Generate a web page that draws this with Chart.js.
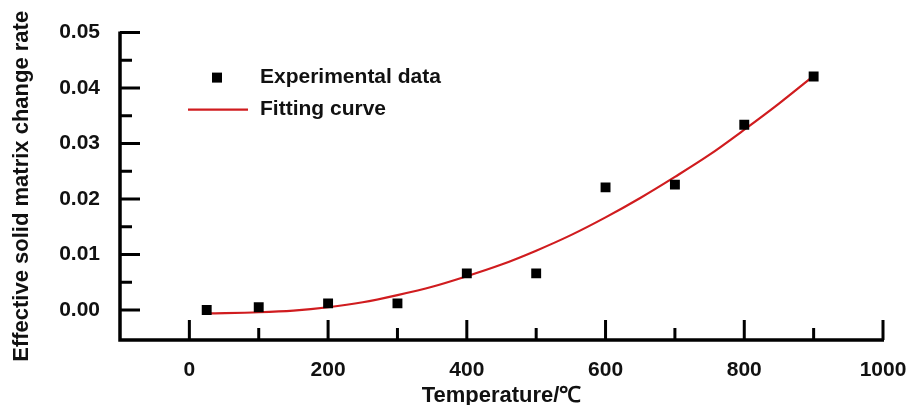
<!DOCTYPE html>
<html>
<head>
<meta charset="utf-8">
<script src="https://cdn.jsdelivr.net/npm/chart.js@4/dist/chart.umd.min.js"></script>
<style>
  html, body { margin: 0; padding: 0; background: #ffffff; overflow: hidden; }
  canvas { display: block; }
</style>
</head>
<body>
<canvas id="chart" width="912" height="405"></canvas>
<script>
// Measured effective solid matrix change rate vs. temperature
const temperatures = [25, 100, 200, 300, 400, 500, 600, 700, 800, 900];
const changeRates = [0.0000, 0.0005, 0.0012, 0.0012, 0.0066, 0.0066, 0.0221, 0.0226, 0.0334, 0.0421];

// Fitted curve through the measurements
const fitTemperatures = [27, 100, 150, 200, 250, 300, 350, 400, 450, 500, 550, 600, 650, 700, 750, 800, 850, 900];
const fitRates = [-0.0006, -0.0004, -0.0001, 0.0005, 0.0014, 0.0027, 0.0042, 0.0061, 0.0082, 0.0107, 0.0135, 0.0167, 0.0202, 0.0240, 0.0280, 0.0325, 0.0372, 0.0422];

// Axis ticks (major labelled, minor unlabelled)
const xTicks = [0, 200, 400, 600, 800, 1000];
const xMinorTicks = [100, 300, 500, 700, 900];
const yTicks = [0, 0.01, 0.02, 0.03, 0.04, 0.05];
const yMinorTicks = [0.005, 0.015, 0.025, 0.035, 0.045];

const seriesNames = ['Experimental data', 'Fitting curve'];
const xTitle = 'Temperature/℃';
const yTitle = 'Effective solid matrix change rate';

const FONT = '"Liberation Sans", Arial, Helvetica, sans-serif';
const RED = '#d01c1f';

// Tick marks pointing into the plot area
const inwardTicks = {
  id: 'inwardTicks',
  afterDatasetsDraw(chart) {
    const { ctx, chartArea: a, scales: { x, y } } = chart;
    ctx.save();
    ctx.strokeStyle = '#000';
    ctx.lineWidth = 3;
    ctx.lineCap = 'butt';
    ctx.beginPath();
    xTicks.forEach(v => { const p = x.getPixelForValue(v); ctx.moveTo(p, a.bottom); ctx.lineTo(p, a.bottom - 20); });
    xMinorTicks.forEach(v => { const p = x.getPixelForValue(v); ctx.moveTo(p, a.bottom); ctx.lineTo(p, a.bottom - 12); });
    yTicks.forEach(v => { const p = y.getPixelForValue(v); ctx.moveTo(a.left, p); ctx.lineTo(a.left + 20, p); });
    yMinorTicks.forEach(v => { const p = y.getPixelForValue(v); ctx.moveTo(a.left, p); ctx.lineTo(a.left + 12, p); });
    ctx.stroke();
    // axis lines
    ctx.lineWidth = 3.5;
    ctx.beginPath();
    ctx.moveTo(a.left, a.top - 1);
    ctx.lineTo(a.left, a.bottom);
    ctx.lineTo(a.right + 1, a.bottom);
    ctx.stroke();
    ctx.restore();
  }
};

// Legend drawn inside the plot area
const insideLegend = {
  id: 'insideLegend',
  afterDraw(chart) {
    const { ctx, chartArea: a } = chart;
    const ds = chart.data.datasets;
    const mx = a.left + 97, sy = a.top + 45, ly = a.top + 77, tx = a.left + 140;
    ctx.save();
    ctx.fillStyle = ds[0].backgroundColor;
    ctx.fillRect(mx - 5, sy - 5, 10, 10);
    ctx.strokeStyle = ds[1].borderColor;
    ctx.lineWidth = 2.2;
    ctx.beginPath();
    ctx.moveTo(a.left + 68, ly);
    ctx.lineTo(a.left + 128, ly);
    ctx.stroke();
    ctx.fillStyle = '#111';
    ctx.font = 'bold 21px ' + FONT;
    ctx.textBaseline = 'middle';
    ctx.textAlign = 'left';
    ctx.fillText(ds[0].label, tx, sy);
    ctx.fillText(ds[1].label, tx, ly);
    ctx.restore();
  }
};

new Chart(document.getElementById('chart'), {
  type: 'scatter',
  data: {
    datasets: [
      {
        label: seriesNames[0],
        data: temperatures.map((t, i) => ({ x: t, y: changeRates[i] })),
        pointStyle: 'rect',
        pointRadius: 7,
        pointHoverRadius: 7,
        backgroundColor: '#000',
        borderColor: '#000',
        borderWidth: 0,
        order: 0
      },
      {
        label: seriesNames[1],
        data: fitTemperatures.map((t, i) => ({ x: t, y: fitRates[i] })),
        showLine: true,
        pointRadius: 0,
        borderColor: RED,
        backgroundColor: RED,
        borderWidth: 2.2,
        cubicInterpolationMode: 'monotone',
        fill: false,
        order: 1
      }
    ]
  },
  options: {
    responsive: false,
    animation: false,
    layout: { padding: { left: 0, top: 30, right: 29, bottom: 0 } },
    plugins: {
      legend: { display: false },
      tooltip: { enabled: false }
    },
    scales: {
      x: {
        type: 'linear',
        min: -100,
        max: 1000,
        afterBuildTicks: s => { s.ticks = xTicks.map(v => ({ value: v })); },
        afterFit: s => { s.height = 65; s.paddingRight = 0; },
        grid: { display: false, drawTicks: false },
        border: { display: false },
        ticks: {
          padding: 18,
          color: '#111',
          font: { family: FONT, size: 21, weight: 'bold' },
          maxRotation: 0,
          callback: v => String(v)
        },
        title: {
          display: true,
          text: xTitle,
          color: '#111',
          font: { family: FONT, size: 22, weight: 'bold' },
          padding: { top: 0, bottom: -4 }
        }
      },
      y: {
        type: 'linear',
        min: -0.0054,
        max: 0.05,
        afterBuildTicks: s => { s.ticks = yTicks.map(v => ({ value: v })); },
        afterFit: s => { s.width = 120; },
        grid: { display: false, drawTicks: false },
        border: { display: false },
        ticks: {
          padding: 20,
          color: '#111',
          font: { family: FONT, size: 21, weight: 'bold' },
          callback: v => v.toFixed(2)
        },
        title: {
          display: true,
          text: yTitle,
          color: '#111',
          font: { family: FONT, size: 22, weight: 'bold' },
          padding: { top: 9, bottom: 0 }
        }
      }
    }
  },
  plugins: [inwardTicks, insideLegend]
});
</script>
</body>
</html>
